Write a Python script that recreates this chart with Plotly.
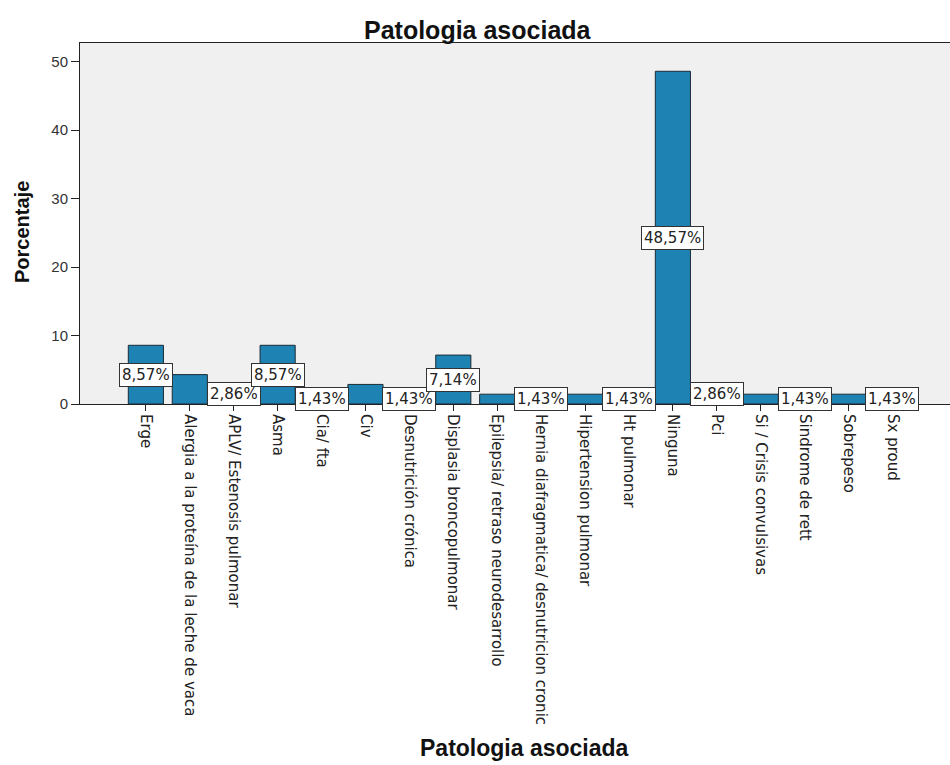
import plotly.graph_objects as go

# Patologia asociada - frequency distribution (%)
categorias = [
    "Erge",
    "Alergia a la proteína de la leche de vaca",
    "APLV/ Estenosis pulmonar",
    "Asma",
    "Cia/ fta",
    "Civ",
    "Desnutrición crónica",
    "Displasia broncopulmonar",
    "Epilepsia/ retraso neurodesarrollo",
    "Hernia diafragmatica/ desnutricion cronic",
    "Hipertension pulmonar",
    "Ht pulmonar",
    "Ninguna",
    "Pci",
    "Si / Crisis convulsivas",
    "Sindrome de rett",
    "Sobrepeso",
    "Sx proud",
]
porcentaje = [8.57, 4.29, 2.86, 8.57, 1.43, 2.86, 1.43, 7.14, 1.43, 1.43,
              1.43, 1.43, 48.57, 2.86, 1.43, 1.43, 1.43, 1.43]

# categories whose value label is printed
etiquetadas = ["Erge", "APLV/ Estenosis pulmonar", "Asma", "Cia/ fta",
               "Desnutrición crónica", "Displasia broncopulmonar",
               "Hernia diafragmatica/ desnutricion cronic", "Ht pulmonar",
               "Ninguna", "Pci", "Sindrome de rett", "Sx proud"]

y_ticks = [0, 10, 20, 30, 40, 50]

FONT = "Liberation Sans, Arial, sans-serif"
WIDE = "DejaVu Sans, Verdana, sans-serif"

fig = go.Figure()
fig.add_trace(go.Bar(
    x=categorias,
    y=porcentaje,
    width=0.8,
    marker=dict(color="#1E82B2", line=dict(color="#1B2B36", width=1)),
    hoverinfo="x+y",
))

annotations = []
for cat, val in zip(categorias, porcentaje):
    if cat in etiquetadas:
        annotations.append(dict(
            x=cat, y=val / 2, xref="x", yref="y",
            text=f"{val:.2f}%".replace(".", ","),
            showarrow=False,
            font=dict(family=WIDE, size=15, color="#222222"),
            bgcolor="white", bordercolor="#333333", borderwidth=1, borderpad=2,
        ))

plot_h = 404 - 43
annotations += [
    dict(text="<b>Patologia asociada</b>", xref="paper", yref="paper",
         x=(478 - 80) / 870, y=1 + (43 - 30) / plot_h, showarrow=False,
         xanchor="center", yanchor="middle",
         font=dict(family=FONT, size=25, color="#111111")),
    dict(text="<b>Patologia asociada</b>", xref="paper", yref="paper",
         x=(524 - 80) / 870, y=(404 - 748) / plot_h, showarrow=False,
         xanchor="center", yanchor="middle",
         font=dict(family=FONT, size=23, color="#111111")),
    dict(text="<b>Porcentaje</b>", xref="paper", yref="paper",
         x=(22 - 80) / 870, y=(404 - 232) / plot_h, showarrow=False,
         xanchor="center", yanchor="middle",
         textangle=-90, font=dict(family=FONT, size=20, color="#111111")),
]

fig.update_layout(
    width=950, height=765,
    margin=dict(l=80, r=0, t=43, b=361, autoexpand=False),
    paper_bgcolor="white",
    plot_bgcolor="#F0F0F0",
    showlegend=False,
    bargap=0.2,
    annotations=annotations,
    font=dict(family=FONT),
)
fig.update_xaxes(
    range=[-1.5, 18.31],
    showline=True, linecolor="#222222", linewidth=1, mirror=True,
    ticks="outside", ticklen=6, tickcolor="#222222",
    tickangle=90, tickfont=dict(family=WIDE, size=15, color="#222222"),
    showgrid=False, automargin=False,
)
fig.update_yaxes(
    range=[0, 52.7],
    tickvals=y_ticks,
    showline=True, linecolor="#222222", linewidth=1,
    ticks="outside", ticklen=8, tickcolor="#222222",
    tickfont=dict(family=FONT, size=15, color="#333333"),
    showgrid=False, zeroline=False, automargin=False,
)

fig.write_html("out.html")
